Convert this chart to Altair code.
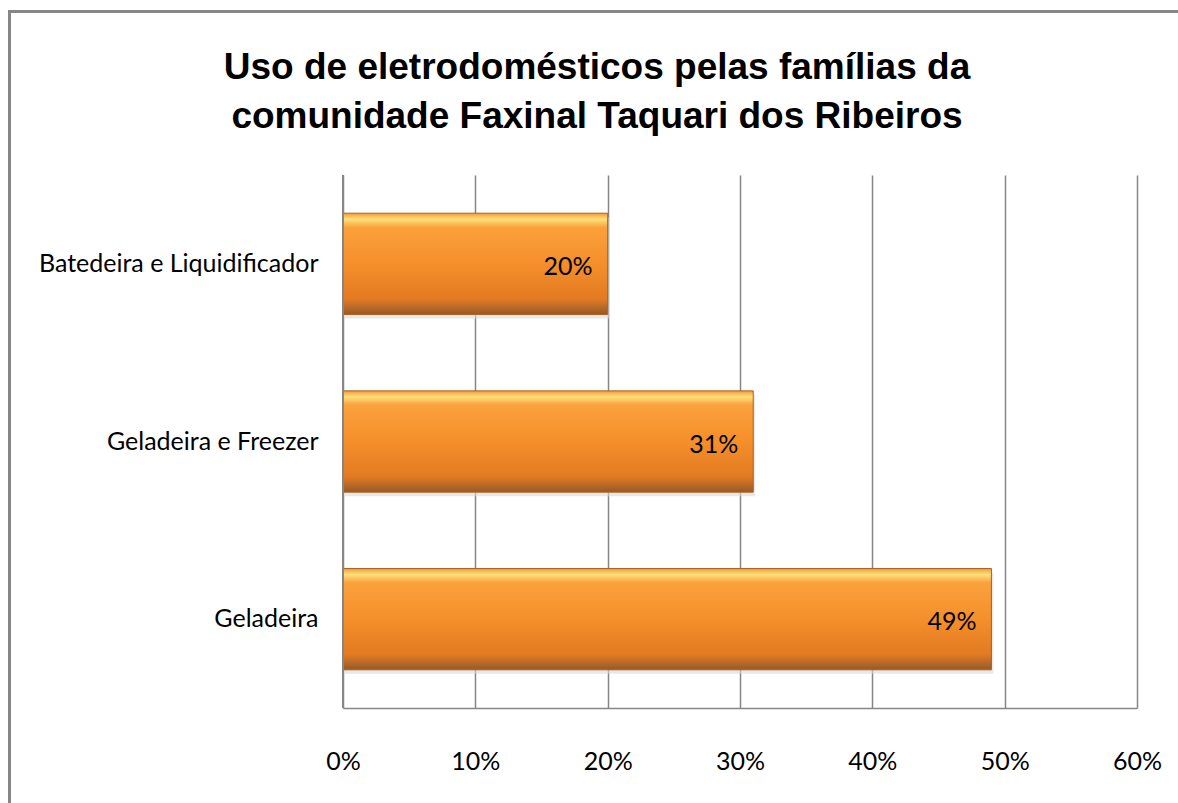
import altair as alt
import pandas as pd

categories = ["Batedeira e Liquidificador", "Geladeira e Freezer", "Geladeira"]
values = [0.20, 0.31, 0.49]
x_ticks = [0, 0.1, 0.2, 0.3, 0.4, 0.5, 0.6]
title_lines = ["Uso de eletrodomésticos pelas famílias da",
               "comunidade Faxinal Taquari dos Ribeiros"]

df = pd.DataFrame({"cat": categories, "val": values})

LBL_FONT = "Lato"
TITLE_FONT = "Liberation Sans"
W, H = 794, 533
PL, PT = 343, 175
PR, PB = 1178 - PL - W, 803 - PT - H

grad = alt.LinearGradient(
    gradient="linear", x1=0, y1=0, x2=0, y2=1,
    stops=[
        alt.GradientStop(offset=0.0, color="#F59A3A"),
        alt.GradientStop(offset=0.06, color="#FDE07A"),
        alt.GradientStop(offset=0.14, color="#FAA13C"),
        alt.GradientStop(offset=0.5, color="#F58F2A"),
        alt.GradientStop(offset=0.85, color="#E27A22"),
        alt.GradientStop(offset=0.93, color="#B8692A"),
        alt.GradientStop(offset=1.0, color="#9A5820"),
    ],
)

y_enc = alt.Y("cat:N", sort=categories, title=None,
              scale=alt.Scale(paddingInner=0.43, paddingOuter=0.215),
              axis=alt.Axis(labelFont=LBL_FONT, labelFontSize=25, labelColor="#000000",
                            labelPadding=25, labelLimit=400, ticks=False, domain=False,
                            grid=False))
x_enc = alt.X("val:Q", title=None,
              scale=alt.Scale(domain=[0, 0.6], nice=False),
              axis=alt.Axis(values=x_ticks, format=".0%", labelFont=LBL_FONT,
                            labelFontSize=25, labelColor="#000000", labelPadding=41,
                            labelFlush=False, labelOverlap=False,
                            ticks=False, grid=True, gridColor="#868686", gridWidth=1.5,
                            domain=True, domainColor="#868686", domainWidth=1.5))

shadow = alt.Chart(df).mark_bar(color="#D9D9D9", opacity=0.6, yOffset=4, xOffset=2).encode(
    x="val:Q", y=alt.Y("cat:N", sort=categories))

bars = alt.Chart(df).mark_bar(color=grad, stroke="#A8631F", strokeWidth=1).encode(
    x=x_enc, y=y_enc)

labels = alt.Chart(df).mark_text(align="right", baseline="middle", dx=-15, dy=3,
                                 font=LBL_FONT, fontSize=25, color="#000000").encode(
    x="val:Q", y=alt.Y("cat:N", sort=categories),
    text=alt.Text("val:Q", format=".0%"))

left_line = alt.Chart(df).mark_rule(color="#868686", strokeWidth=1.5).encode(
    x=alt.value(0), y=alt.value(0), y2=alt.value(H))

border = alt.Chart(pd.DataFrame({"a": [1]})).mark_rect(
    fill=None, stroke="#868686", strokeWidth=3).encode(
    x=alt.value(9.5 - PL), y=alt.value(11.5 - PT),
    x2=alt.value(1300), y2=alt.value(900))

title_baselines = [79, 128]
title_layers = [
    alt.Chart(pd.DataFrame({"t": [line]})).mark_text(
        font=TITLE_FONT, fontSize=37, fontWeight="bold", color="#000000",
        align="center", baseline="alphabetic").encode(
        x=alt.value(597 - PL), y=alt.value(yb - PT), text="t:N")
    for line, yb in zip(title_lines, title_baselines)
]

chart = alt.layer(shadow, bars, labels, left_line, border, *title_layers).properties(
    width=W, height=H,
    autosize=alt.AutoSizeParams(type="none"),
    padding={"left": PL, "top": PT, "right": PR, "bottom": PB},
    background="white",
).configure_view(stroke=None)

chart.save("out.html", embed_options={"renderer": "svg", "actions": False})
